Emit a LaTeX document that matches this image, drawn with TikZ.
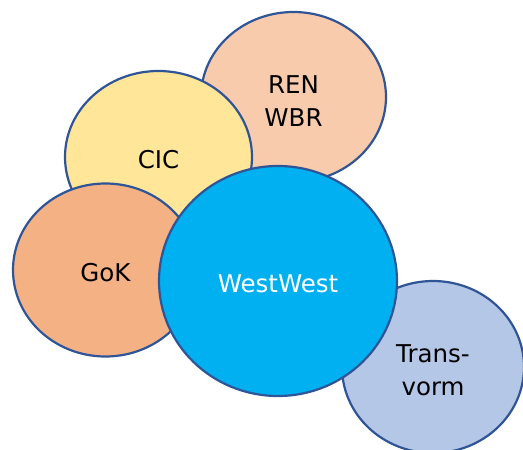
\documentclass[tikz,border=0pt]{standalone}
\usepackage{fontspec}
\setmainfont{DejaVu Sans}
\usetikzlibrary{shapes.geometric}
\definecolor{rim}{HTML}{2F5597}
\definecolor{renc}{HTML}{F8CBAD}
\definecolor{cicc}{HTML}{FFE699}
\definecolor{gokc}{HTML}{F4B183}
\definecolor{westc}{HTML}{00B0F0}
\definecolor{transc}{HTML}{B4C7E7}
\tikzset{
  blob/.style={ellipse, draw=rim, line width=2.2pt, inner sep=0pt},
  txt/.style={align=center, inner sep=0pt, font=\fontsize{24.5}{33}\selectfont, text=black}
}
\begin{document}
\begin{tikzpicture}[x=1pt,y=-1pt]
\useasboundingbox (0,0) rectangle (523,450);
\clip (0,0) rectangle (523,450);
\node[blob, fill=renc, minimum width=185pt, minimum height=170pt] (ren) at (293.5,97) {};
\node[txt] (renT) at ([yshift=-4pt]ren.center) {REN\\WBR};
\node[blob, fill=cicc, minimum width=187pt, minimum height=172pt] (cic) at (158.5,157) {};
\node[txt] (cicT) at ([yshift=-2.5pt]cic.center) {CIC};
\node[blob, fill=gokc, minimum width=185pt, minimum height=173pt] (gok) at (105.5,270) {};
\node[txt] (gokT) at ([yshift=-2.5pt]gok.center) {GoK};
\node[blob, fill=transc, minimum width=182pt, minimum height=172pt] (trans) at (433,367) {};
\node[txt] (transT) at ([yshift=-3pt]trans.center) {Trans-\\vorm};
\node[blob, fill=westc, minimum width=238pt, minimum height=230pt] (west) at (278,281) {};
\node[txt, text=white] (westT) at ([yshift=-3pt]west.center) {WestWest};
\end{tikzpicture}
\end{document}
